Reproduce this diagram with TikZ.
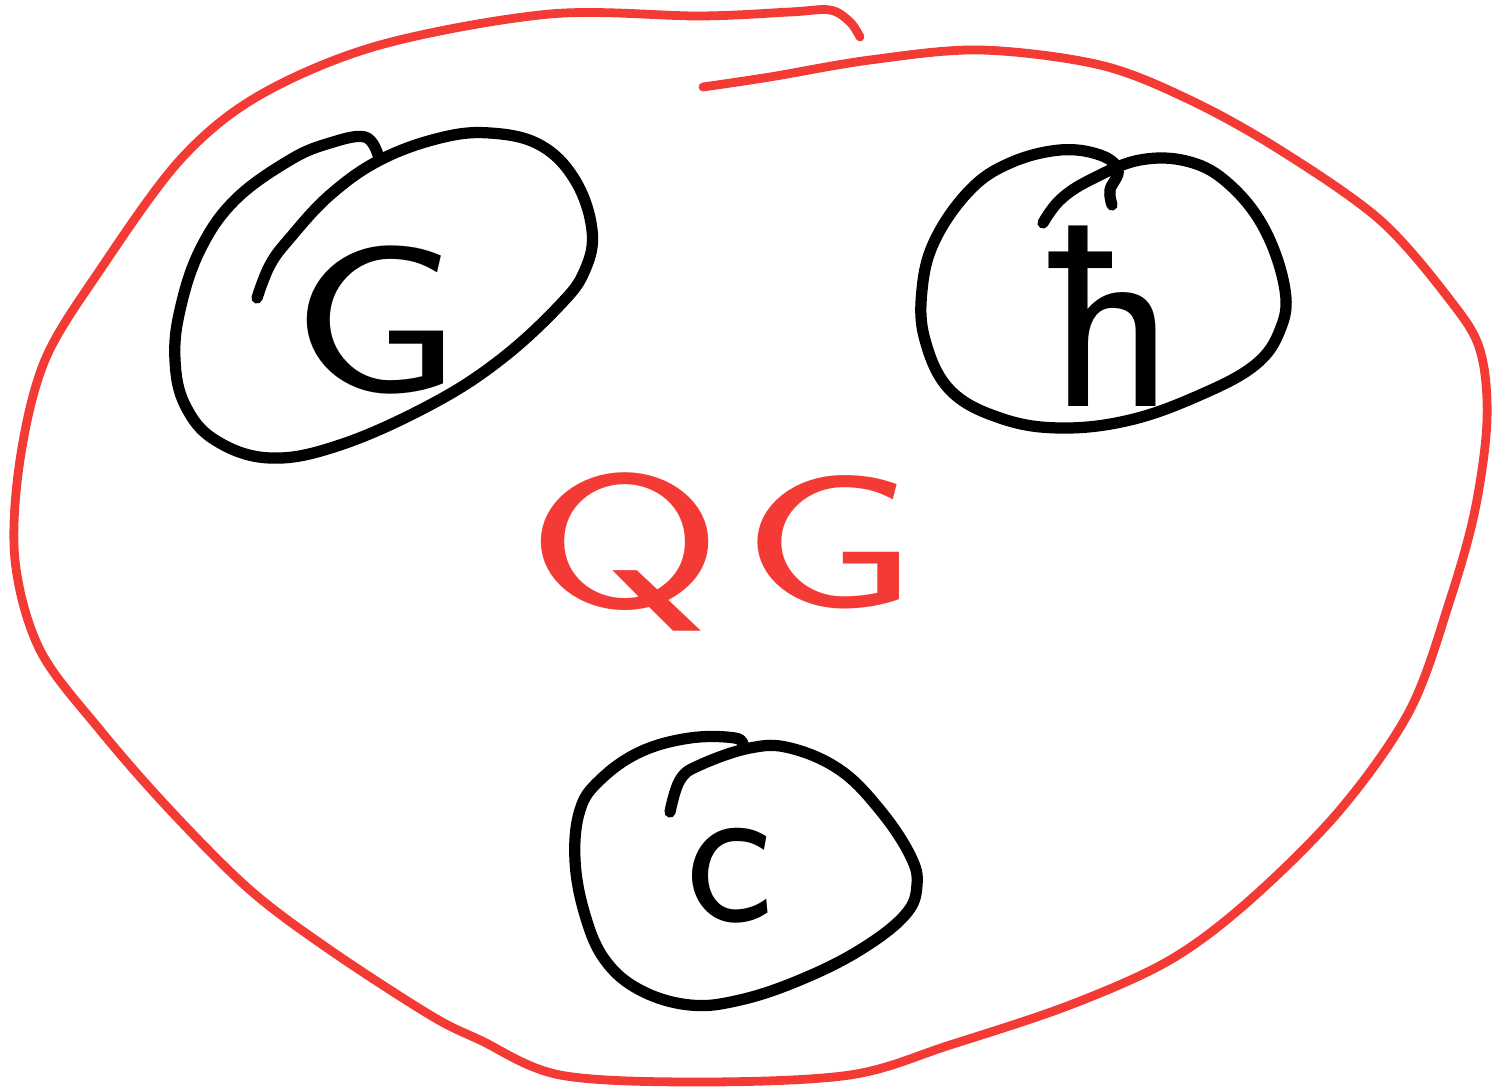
\documentclass[tikz,border=0pt]{standalone}
\usepackage{fontspec}
\definecolor{pen}{HTML}{F33A34}
\definecolor{ink}{HTML}{000000}
\tikzset{ring/.style={draw=ink,line width=3.2pt,line cap=round,line join=round},blob/.style={draw=pen,line width=2.5pt,line cap=round,line join=round},sym/.style={font=\sffamily\fontsize{60}{60}\selectfont,text=ink,inner sep=0pt},qgsym/.style={sym,text=pen,font=\sffamily\fontsize{54}{54}\selectfont}}
\begin{document}
\begin{tikzpicture}[x=0.01cm,y=-0.01cm]
\useasboundingbox (0,0) rectangle (1499,1091);
% constants and the theory in the middle
\node[sym] (grav) at (376,320) {\scalebox{1.3}[1]{G}};
\node[sym,font=\sffamily\fontsize{74}{74}\selectfont] (hbar) at (1112,316) {ħ};
\node[sym] (light) at (730,876) {c};
\node[qgsym] (qg) at (723,552) {\scalebox{1.5}[1]{Q\kern0.06em G}};
% hand drawn rings
\draw[ring] plot[smooth,tension=0.65] coordinates {(257,298) (270,265) (290,238) (330,195) (380,160) (440,138) (490,133) (540,145) (575,180) (592,230) (585,270) (560,305) (500,360) (430,405) (340,445) (270,458) (215,440) (185,405) (175,360) (180,310) (200,250) (235,200) (290,160) (330,143) (365,137) (378,155)};
\draw[ring] plot[smooth,tension=0.65] coordinates {(1043,223) (1060,200) (1090,180) (1140,160) (1190,162) (1230,185) (1265,230) (1285,290) (1280,330) (1255,365) (1200,395) (1130,420) (1060,428) (1000,418) (950,390) (925,340) (922,290) (935,240) (970,190) (1010,163) (1060,150) (1100,155) (1118,170) (1110,190) (1112,205)};
\draw[ring] plot[smooth,tension=0.65] coordinates {(670,812) (680,780) (700,765) (750,748) (790,748) (840,770) (880,810) (910,855) (917,885) (905,915) (860,950) (800,980) (740,1000) (690,1005) (640,990) (605,960) (585,915) (575,860) (580,810) (600,780) (640,752) (690,738) (735,738) (743,746)};
% outer blob
\draw[blob] plot[smooth,tension=0.55] coordinates {(703,87) (770,77) (870,60) (980,50) (1100,65) (1190,100) (1280,150) (1380,220) (1450,300) (1480,350) (1487,420) (1475,510) (1450,600) (1410,710) (1340,810) (1250,900) (1170,960) (1070,1005) (950,1045) (850,1075) (700,1082) (560,1075) (480,1040) (430,1015) (330,950) (250,890) (170,810) (100,730) (40,650) (15,560) (20,460) (45,360) (100,270) (180,160) (260,95) (380,45) (550,14) (700,16) (790,12) (830,10) (850,22) (860,37)};
\end{tikzpicture}
\end{document}
